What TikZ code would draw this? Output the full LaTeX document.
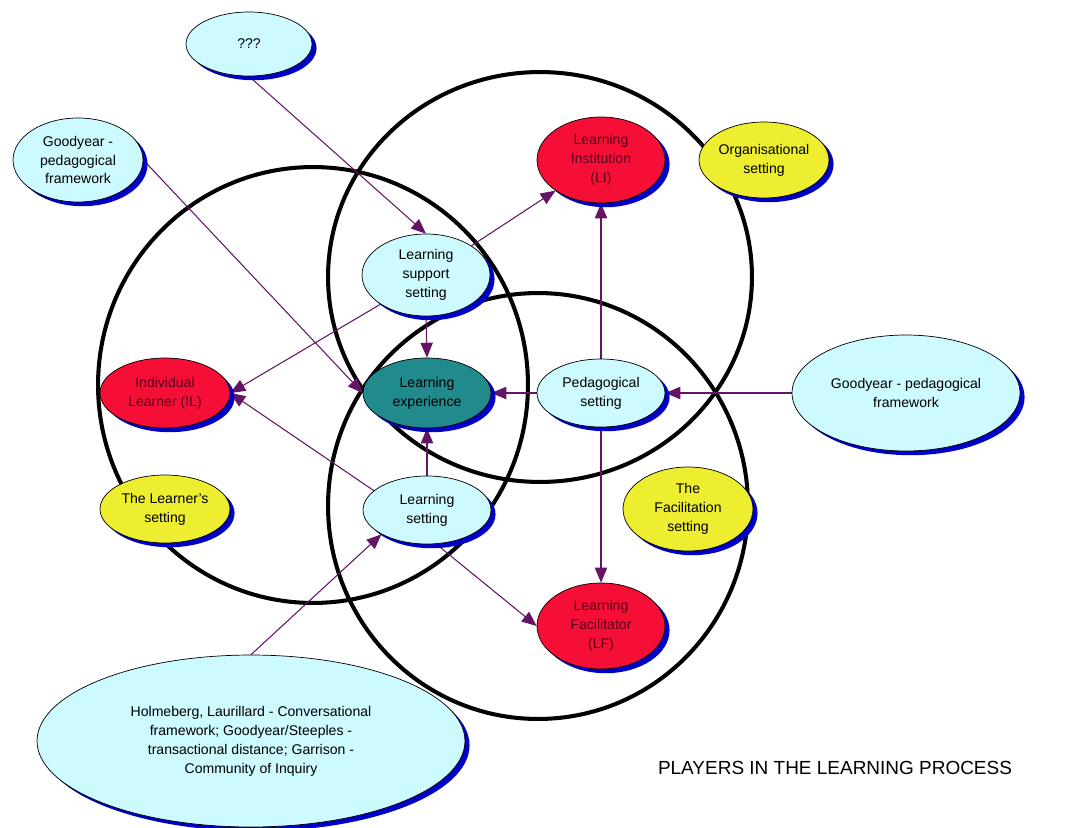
\documentclass[tikz,border=0pt]{standalone}
\usepackage{fontspec}
\setmainfont{Liberation Sans}
\usetikzlibrary{shapes.geometric,arrows.meta,shadows}

\definecolor{palecyan}{RGB}{204,250,255}
\definecolor{hotred}{RGB}{245,15,55}
\definecolor{lemon}{RGB}{238,238,48}
\definecolor{tealfill}{RGB}{32,138,140}
\definecolor{shadowblue}{RGB}{0,0,200}
\definecolor{linkpurple}{RGB}{100,20,100}
\definecolor{darkred}{RGB}{90,0,25}

\pgfdeclarelayer{paper}
\pgfdeclarelayer{rings}
\pgfdeclarelayer{links}
\pgfsetlayers{paper,rings,links,main}

\begin{document}
\begin{tikzpicture}[x=0.02cm,y=-0.02cm,
  bubble/.style={ellipse, draw=black, line width=0.4pt, inner sep=0pt,
    align=center, font=\fontsize{8}{10.8}\selectfont,
    drop shadow={shadow xshift=2.6pt, shadow yshift=-2.4pt,
      fill=shadowblue, opacity=1}},
  info/.style={bubble, fill=palecyan},
  player/.style={bubble, fill=hotred, text=darkred},
  context/.style={bubble, fill=lemon},
  core/.style={bubble, fill=tealfill},
  ring/.style={draw=black, line width=2.3pt},
  link/.style={draw=linkpurple, line width=0.6pt,
    -{Triangle[length=8.5pt,width=7pt]}}
]
\useasboundingbox (0,0) rectangle (1075,828);
\begin{pgfonlayer}{paper}
  \fill[white] (0,0) rectangle (1075,828);
\end{pgfonlayer}

% the three overlapping settings
\begin{pgfonlayer}{rings}
  \draw[ring] (313,385) ellipse [x radius=4.30cm, y radius=4.36cm];
  \draw[ring] (540,277) ellipse [x radius=4.24cm, y radius=4.10cm];
  \draw[ring] (538,506) ellipse [x radius=4.20cm, y radius=4.26cm];
\end{pgfonlayer}

% nodes
\node[info, minimum width=2.52cm, minimum height=1.28cm] (q) at (249,44) {???};
\node[info, minimum width=2.6cm, minimum height=1.68cm] (gyl) at (78,160) {Goodyear -\\pedagogical\\framework};
\node[player, minimum width=2.56cm, minimum height=1.72cm] (li) at (601,160) {Learning\\Institution\\(LI)};
\node[context, minimum width=2.6cm, minimum height=1.52cm] (org) at (764,160) {Organisational\\setting};
\node[info, minimum width=2.56cm, minimum height=1.64cm] (lss) at (426,275) {Learning\\support\\setting};
\node[player, minimum width=2.6cm, minimum height=1.4cm] (il) at (165,393) {Individual\\Learner (IL)};
\node[core, minimum width=2.56cm, minimum height=1.4cm] (le) at (427,393) {Learning\\experience};
\node[info, minimum width=2.56cm, minimum height=1.36cm] (ps) at (601,393) {Pedagogical\\setting};
\node[info, minimum width=4.56cm, minimum height=2.32cm] (gyr) at (906,393) {Goodyear - pedagogical\\framework};
\node[context, minimum width=2.6cm, minimum height=1.36cm] (lset) at (165,509) {The Learner's\\setting};
\node[info, minimum width=2.56cm, minimum height=1.36cm] (ls) at (427,510) {Learning\\setting};
\node[context, minimum width=2.6cm, minimum height=1.68cm] (fs) at (688,509) {The\\Facilitation\\setting};
\node[player, minimum width=2.56cm, minimum height=1.72cm] (lf) at (601,626) {Learning\\Facilitator\\(LF)};
\node[info, minimum width=8.56cm, minimum height=3.44cm] (src) at (251,741)
  {Holmeberg, Laurillard - Conversational\\framework; Goodyear/Steeples -\\transactional distance; Garrison -\\Community of Inquiry};
\node[font=\fontsize{10.8}{13}\selectfont, inner sep=0pt] (title) at (835,768) {PLAYERS IN THE LEARNING PROCESS};

% connectors
\begin{pgfonlayer}{links}
  \draw[link] (q.south) -- (lss.north);
  \draw[link] (gyl.east) -- (le.west);
  \draw[link] (lss.north east) -- (li.south west);
  \draw[link] (lss.south west) -- (il.east);
  \draw[link] (lss.south) -- (le.north);
  \draw[link] (ps.west) -- (le.east);
  \draw[link] (ps.north) -- (li.south);
  \draw[link] (ps.south) -- (lf.north);
  \draw[link] (gyr.west) -- (ps.east);
  \draw[link] (ls.north) -- (le.south);
  \draw[link] (ls.160) -- (il.east);
  \draw[link] (ls.-75) -- (lf.west);
  \draw[link] (src.north) -- (ls.south west);
\end{pgfonlayer}
\end{tikzpicture}
\end{document}
